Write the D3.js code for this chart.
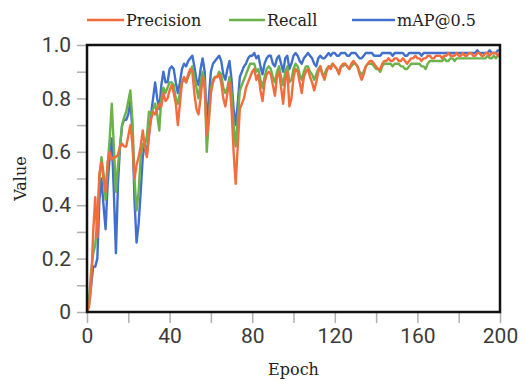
<!DOCTYPE html>
<html>
<head>
<meta charset="utf-8">
<script src="https://cdn.jsdelivr.net/npm/d3@7"></script>
<style>
  html, body { margin: 0; padding: 0; background: #fff; }
  svg { display: block; }
</style>
</head>
<body>
<div id="chart"></div>
<script>
// values per epoch (index = epoch, 0..200)
const precision = [
  0.00,0.02,0.10,0.30,0.43,0.28,0.52,0.56,0.50,0.45,
  0.56,0.60,0.57,0.58,0.58,0.59,0.62,0.63,0.62,0.62,
  0.66,0.70,0.63,0.50,0.55,0.58,0.62,0.68,0.62,0.58,
  0.66,0.72,0.75,0.74,0.76,0.78,0.77,0.82,0.79,0.80,
  0.83,0.85,0.82,0.78,0.70,0.78,0.86,0.88,0.86,0.89,
  0.91,0.90,0.82,0.76,0.74,0.80,0.88,0.84,0.66,0.72,
  0.82,0.86,0.88,0.88,0.89,0.86,0.80,0.77,0.82,0.86,
  0.76,0.60,0.48,0.62,0.76,0.78,0.80,0.84,0.86,0.88,
  0.90,0.91,0.87,0.89,0.83,0.79,0.86,0.89,0.90,0.89,
  0.85,0.81,0.88,0.90,0.84,0.78,0.87,0.90,0.77,0.80,
  0.88,0.91,0.90,0.86,0.82,0.88,0.90,0.91,0.88,0.86,
  0.83,0.86,0.90,0.92,0.89,0.87,0.90,0.92,0.91,0.93,
  0.92,0.91,0.89,0.92,0.93,0.93,0.92,0.91,0.93,0.94,
  0.93,0.92,0.89,0.87,0.89,0.92,0.93,0.94,0.94,0.93,
  0.92,0.91,0.91,0.93,0.94,0.94,0.95,0.94,0.94,0.95,
  0.95,0.94,0.94,0.95,0.94,0.93,0.94,0.95,0.95,0.96,
  0.95,0.95,0.94,0.95,0.95,0.96,0.96,0.95,0.95,0.96,
  0.96,0.96,0.95,0.96,0.96,0.97,0.96,0.96,0.96,0.97,
  0.96,0.96,0.97,0.96,0.96,0.97,0.97,0.96,0.96,0.97,
  0.97,0.96,0.96,0.97,0.97,0.96,0.97,0.97,0.97,0.96,
  0.97
];
const recall = [
  0.00,0.05,0.15,0.22,0.25,0.35,0.50,0.58,0.52,0.42,
  0.55,0.65,0.78,0.62,0.45,0.55,0.62,0.70,0.73,0.75,
  0.79,0.83,0.72,0.50,0.38,0.45,0.58,0.63,0.62,0.66,
  0.75,0.74,0.76,0.78,0.74,0.68,0.80,0.84,0.82,0.84,
  0.86,0.86,0.85,0.80,0.78,0.82,0.86,0.87,0.86,0.88,
  0.90,0.92,0.88,0.84,0.80,0.86,0.90,0.86,0.60,0.72,
  0.84,0.87,0.88,0.88,0.90,0.89,0.84,0.82,0.84,0.88,
  0.82,0.70,0.62,0.72,0.83,0.85,0.87,0.89,0.91,0.93,
  0.93,0.93,0.90,0.91,0.87,0.84,0.88,0.91,0.92,0.91,
  0.88,0.86,0.90,0.92,0.88,0.85,0.90,0.92,0.86,0.87,
  0.91,0.93,0.92,0.89,0.87,0.90,0.92,0.92,0.90,0.89,
  0.87,0.89,0.91,0.92,0.89,0.89,0.91,0.92,0.92,0.93,
  0.92,0.91,0.90,0.92,0.92,0.93,0.92,0.91,0.92,0.93,
  0.93,0.92,0.90,0.89,0.90,0.92,0.93,0.93,0.93,0.92,
  0.91,0.91,0.90,0.92,0.93,0.93,0.93,0.93,0.92,0.93,
  0.93,0.93,0.92,0.92,0.91,0.91,0.92,0.93,0.93,0.93,
  0.93,0.93,0.92,0.92,0.91,0.93,0.94,0.94,0.94,0.94,
  0.94,0.94,0.94,0.95,0.94,0.94,0.95,0.95,0.94,0.95,
  0.95,0.95,0.95,0.95,0.95,0.95,0.95,0.95,0.95,0.95,
  0.95,0.95,0.95,0.95,0.96,0.95,0.95,0.96,0.95,0.96,
  0.96
];
const mAP50 = [
  0.00,0.03,0.10,0.17,0.17,0.20,0.42,0.50,0.40,0.31,
  0.48,0.58,0.65,0.45,0.22,0.48,0.62,0.70,0.72,0.72,
  0.74,0.79,0.68,0.42,0.26,0.33,0.45,0.58,0.63,0.59,
  0.66,0.74,0.80,0.86,0.80,0.76,0.85,0.90,0.86,0.86,
  0.91,0.92,0.91,0.86,0.82,0.86,0.91,0.93,0.92,0.94,
  0.95,0.96,0.92,0.87,0.85,0.91,0.95,0.90,0.70,0.80,
  0.90,0.93,0.94,0.95,0.96,0.94,0.89,0.87,0.91,0.94,
  0.87,0.76,0.70,0.78,0.88,0.90,0.92,0.93,0.95,0.96,
  0.96,0.97,0.95,0.96,0.92,0.89,0.93,0.95,0.96,0.96,
  0.93,0.92,0.95,0.96,0.93,0.90,0.95,0.96,0.91,0.93,
  0.96,0.97,0.96,0.94,0.93,0.95,0.96,0.97,0.96,0.95,
  0.93,0.92,0.95,0.96,0.95,0.95,0.96,0.97,0.96,0.97,
  0.97,0.96,0.96,0.97,0.97,0.97,0.96,0.96,0.97,0.97,
  0.97,0.96,0.95,0.95,0.96,0.97,0.97,0.97,0.97,0.96,
  0.96,0.96,0.96,0.97,0.97,0.97,0.97,0.97,0.96,0.97,
  0.97,0.97,0.97,0.97,0.96,0.96,0.97,0.97,0.97,0.97,
  0.97,0.97,0.96,0.97,0.97,0.97,0.97,0.97,0.97,0.97,
  0.97,0.97,0.97,0.97,0.97,0.97,0.97,0.97,0.97,0.97,
  0.97,0.97,0.97,0.97,0.97,0.97,0.97,0.97,0.97,0.98,
  0.97,0.97,0.97,0.97,0.97,0.98,0.97,0.97,0.97,0.98,
  0.98
];
const seriesNames = ['Precision', 'Recall', 'mAP@0.5'];
const xTicks = [0, 20, 40, 60, 80, 100, 120, 140, 160, 180, 200];
const yTicks = [0, 0.1, 0.2, 0.3, 0.4, 0.5, 0.6, 0.7, 0.8, 0.9, 1.0];

const chartWidth = 525;
const chartHeight = 381;
const plotLeft = 87, plotRight = 500, plotTop = 45, plotBottom = 312;
const colors = { 'Precision': '#f26d3d', 'Recall': '#6cb24a', 'mAP@0.5': '#4170cc' };
const values = { 'Precision': precision, 'Recall': recall, 'mAP@0.5': mAP50 };

const svg = d3.select('#chart')
  .append('svg')
  .attr('width', chartWidth)
  .attr('height', chartHeight);

const xScale = d3.scaleLinear().domain([0, 200]).range([plotLeft, plotRight]);
const yScale = d3.scaleLinear().domain([0, 1]).range([plotBottom, plotTop]);

// y axis
const yAxis = d3.axisLeft(yScale)
  .tickValues(yTicks)
  .tickSize(9)
  .tickPadding(6)
  .tickFormat((d) => {
    const k = Math.round(d * 10);
    if (k % 2 !== 0) return '';
    return k === 0 ? '0' : d3.format('.1f')(d);
  });

const yAxisG = svg.append('g')
  .attr('transform', 'translate(' + (plotLeft - 1) + ',0)')
  .call(yAxis);
yAxisG.select('.domain').remove();
yAxisG.selectAll('line').attr('stroke', '#b0b0b0').attr('stroke-width', 1.5);
yAxisG.selectAll('text')
  .style('font-family', 'Roboto, sans-serif')
  .style('font-size', '21px')
  .attr('fill', '#3a3a3a');

// x axis
const xAxis = d3.axisBottom(xScale)
  .tickValues(xTicks)
  .tickSize(10)
  .tickPadding(5)
  .tickFormat((d) => (d % 40 === 0 ? d : ''));

const xAxisG = svg.append('g')
  .attr('transform', 'translate(0,' + (plotBottom + 1) + ')')
  .call(xAxis);
xAxisG.select('.domain').remove();
xAxisG.selectAll('line').attr('stroke', '#b0b0b0').attr('stroke-width', 1.5);
xAxisG.selectAll('text')
  .style('font-family', 'Roboto, sans-serif')
  .style('font-size', '21px')
  .attr('fill', '#3a3a3a');

// lines
const line = d3.line()
  .x((d, i) => xScale(i))
  .y((d) => yScale(d));

['mAP@0.5', 'Recall', 'Precision'].forEach((name) => {
  svg.append('path')
    .datum(values[name])
    .attr('fill', 'none')
    .attr('stroke', colors[name])
    .attr('stroke-width', 2.4)
    .attr('stroke-linejoin', 'round')
    .attr('d', line);
});

// frame
svg.append('rect')
  .attr('x', plotLeft)
  .attr('y', plotTop)
  .attr('width', plotRight - plotLeft)
  .attr('height', plotBottom - plotTop)
  .attr('fill', 'none')
  .attr('stroke', '#111')
  .attr('stroke-width', 2.5);

// axis titles
svg.append('text')
  .attr('x', xScale(100))
  .attr('y', 375)
  .attr('text-anchor', 'middle')
  .style('font-family', '"DejaVu Serif", serif')
  .style('font-size', '16px')
  .attr('fill', '#222')
  .text('Epoch');

svg.append('text')
  .attr('transform', 'translate(26,' + yScale(0.5) + ') rotate(-90)')
  .attr('text-anchor', 'middle')
  .style('font-family', '"DejaVu Serif", serif')
  .style('font-size', '16px')
  .attr('fill', '#222')
  .text('Value');

// legend
const legendX = [87, 229, 352];
const legendLen = [37, 36, 43];
const legend = svg.append('g');
seriesNames.forEach((name, i) => {
  legend.append('line')
    .attr('x1', legendX[i])
    .attr('x2', legendX[i] + legendLen[i])
    .attr('y1', 20)
    .attr('y2', 20)
    .attr('stroke', colors[name])
    .attr('stroke-width', 2.4);
  legend.append('text')
    .attr('x', legendX[i] + legendLen[i] + 2)
    .attr('y', 26)
    .style('font-family', '"DejaVu Serif", serif')
    .style('font-size', '16px')
    .attr('fill', '#222')
    .text(name);
});
</script>
</body>
</html>
